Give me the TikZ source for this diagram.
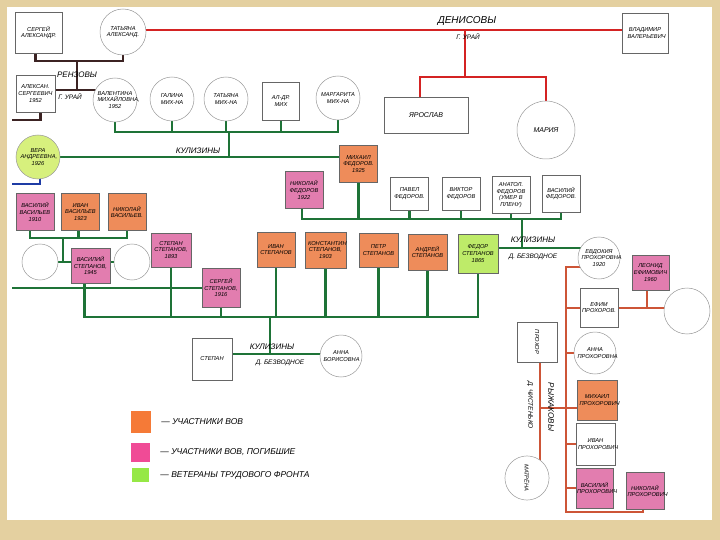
\documentclass[tikz,border=0pt]{standalone}
\usepackage{fontspec}
\setmainfont{Liberation Sans}
\usepackage{graphicx}
\usetikzlibrary{positioning,backgrounds}
\definecolor{framecol}{RGB}{228,208,160}
\definecolor{warorange}{RGB}{238,140,90}
\definecolor{fallenpink}{RGB}{226,125,175}
\definecolor{labourgreen}{RGB}{190,235,105}
\definecolor{veragreen}{RGB}{215,240,125}
\definecolor{legorange}{RGB}{245,122,55}
\definecolor{legpink}{RGB}{240,75,150}
\definecolor{leggreen}{RGB}{150,232,70}
\definecolor{linered}{RGB}{212,35,35}
\definecolor{linegreen}{RGB}{30,115,55}
\definecolor{lineblack}{RGB}{60,35,35}
\definecolor{linebrown}{RGB}{205,85,55}
\definecolor{lineblue}{RGB}{30,60,165}

\begin{document}
\begin{tikzpicture}[
  x=1pt, y=-1pt,
  box/.style={draw=black!60, fill=white, align=center, minimum width=38pt,
              minimum height=37pt, inner sep=0.5pt, line width=0.5pt, text width=35pt,
              font=\fontsize{5.7}{6.6}\selectfont\itshape},
  circ/.style={circle, draw=black!40, fill=white, align=center, minimum size=44pt,
               inner sep=0pt, line width=0.5pt, text width=35pt,
               font=\fontsize{5.7}{6.6}\selectfont\itshape},
  war/.style={fill=warorange},
  fallen/.style={fill=fallenpink},
  labour/.style={fill=labourgreen},
  redline/.style={draw=linered, line width=2.8pt},
  greenline/.style={draw=linegreen, line width=2.2pt},
  blackline/.style={draw=lineblack, line width=2.8pt},
  brownline/.style={draw=linebrown, line width=2pt},
  blueline/.style={draw=lineblue, line width=2pt},
  bigname/.style={font=\fontsize{10}{11}\selectfont\itshape, inner sep=1pt},
  famname/.style={font=\fontsize{8}{9}\selectfont\itshape, inner sep=1pt},
  place/.style={font=\fontsize{6.5}{7}\selectfont\itshape, inner sep=1pt},
  legbox/.style={minimum width=19pt, minimum height=19pt, inner sep=0pt},
  legtext/.style={font=\fontsize{8.5}{10}\selectfont\itshape, inner sep=0pt}
]
\useasboundingbox (0,0) rectangle (720,540);

\node[box, minimum width=47pt, minimum height=41pt] (sergey) at (38.5,32.5) {СЕРГЕЙ\\АЛЕКСАНДР.};
\node[circ, minimum size=46pt] (tatyanaA) at (123,32) {ТАТЬЯНА\\АЛЕКСАНД.};
\node[box, minimum width=46pt, minimum height=40pt] (vladimir) at (645,33) {ВЛАДИМИР\\ВАЛЕРЬЕВИЧ};
\node[box, minimum width=84pt, minimum height=36pt, font=\fontsize{7}{8}\selectfont\itshape] (yaroslav) at (426,115) {ЯРОСЛАВ};
\node[circ, minimum size=58pt, font=\fontsize{7}{8}\selectfont\itshape] (mariya) at (546,130) {МАРИЯ};

\node[box, minimum width=39pt] (aleksan) at (35.5,93.5) {АЛЕКСАН.\\СЕРГЕЕВИЧ\\1952};
\node[circ] (valentina) at (115,100) {ВАЛЕНТИНА\\МИХАЙЛОВНА,\\1952};
\node[circ] (galina) at (172,99) {ГАЛИНА\\МИХ-НА};
\node[circ] (tatyanaM) at (226,99) {ТАТЬЯНА\\МИХ-НА};
\node[box, minimum width=37pt, minimum height=38pt] (aleksandrM) at (281,101) {АЛ-ДР.\\МИХ};
\node[circ] (margarita) at (338,98) {МАРГАРИТА\\МИХ-НА};

\node[circ, fill=veragreen] (vera) at (38,157) {ВЕРА\\АНДРЕЕВНА,\\1926};
\node[box, war] (mikhail) at (358.5,164) {МИХАИЛ\\ФЕДОРОВ.\\1925};
\node[box, fallen] (nikolayF) at (304,190) {НИКОЛАЙ\\ФЕДОРОВ\\1922};
\node[box, minimum height=33pt] (pavel) at (409.5,193.5) {ПАВЕЛ\\ФЕДОРОВ.};
\node[box, minimum height=33pt] (viktor) at (461,193.5) {ВИКТОР\\ФЕДОРОВ};
\node[box] (anatol) at (511,195) {АНАТОЛ.\\ФЕДОРОВ\\(УМЕР В\\ПЛЕНУ)};
\node[box] (vasiliyF) at (561,193.5) {ВАСИЛИЙ\\ФЕДОРОВ.};

\node[box, fallen] (vasiliyV) at (35,212) {ВАСИЛИЙ\\ВАСИЛЬЕВ\\1910};
\node[box, war, right=7pt of vasiliyV] (ivanV) {ИВАН\\ВАСИЛЬЕВ\\1923};
\node[box, war, right=8pt of ivanV] (nikolayV) {НИКОЛАЙ\\ВАСИЛЬЕВ.};
\node[circ, minimum size=36pt] (circL) at (40,262) {};
\node[box, fallen, minimum width=39pt, minimum height=35pt] (vasiliyS) at (90.5,265.5) {ВАСИЛИЙ\\СТЕПАНОВ,\\1945};
\node[circ, minimum size=36pt] (circR) at (132,262) {};
\node[box, fallen, minimum width=40pt, minimum height=34pt] (stepan93) at (171,250) {СТЕПАН\\СТЕПАНОВ,\\1893};
\node[box, fallen, minimum height=39pt] (sergeyS) at (221,287.5) {СЕРГЕЙ\\СТЕПАНОВ,\\1916};
\node[box, war, minimum height=35pt] (ivanS) at (276,249.5) {ИВАН\\СТЕПАНОВ};
\node[box, war, minimum width=41pt, minimum height=36pt] (konstantin) at (325.5,250) {КОНСТАНТИН\\СТЕПАНОВ,\\1903};
\node[box, war, minimum width=39pt, minimum height=34pt] (petr) at (378.5,250) {ПЕТР\\СТЕПАНОВ};
\node[box, war, minimum width=39pt, minimum height=36pt] (andrey) at (427.5,252) {АНДРЕЙ\\СТЕПАНОВ};
\node[box, labour, minimum width=40pt, minimum height=39pt] (fedor) at (478,253.5) {ФЕДОР\\СТЕПАНОВ\\1865};

\node[box, minimum width=40pt, minimum height=42pt] (stepan) at (212,359) {СТЕПАН};
\node[circ, minimum size=42pt] (anna) at (341,356) {АННА\\БОРИСОВНА};

\node[circ, minimum size=42pt] (evdokiya) at (599,258) {ЕВДОКИЯ\\ПРОХОРОВНА\\1920};
\node[box, minimum height=39pt] (efim) at (599,307.5) {ЕФИМ\\ПРОХОРОВ.};
\node[box, fallen, minimum width=37pt, minimum height=35pt] (leonid) at (650.5,272.5) {ЛЕОНИД\\ЕФИМОВИЧ\\1960};
\node[circ, minimum size=46pt] (circE) at (687,311) {};
\node[circ, minimum size=42pt] (annaP) at (595,353) {АННА\\ПРОХОРОВНА};
\node[box, war, minimum width=40pt, minimum height=40pt] (mikhailP) at (597,400) {МИХАИЛ\\ПРОХОРОВИЧ};
\node[box, minimum width=39pt, minimum height=42pt] (ivanP) at (595.5,444) {ИВАН\\ПРОХОРОВИЧ};
\node[box, fallen, minimum width=37pt, minimum height=40pt] (vasiliyP) at (594.5,488) {ВАСИЛИЙ\\ПРОХОРОВИЧ};
\node[box, fallen] (nikolayP) at (645,491) {НИКОЛАЙ\\ПРОХОРОВИЧ};
\node[box, minimum width=40pt, minimum height=40pt] (prokhor) at (537,342) {\rotatebox{-90}{ПРОХОР}};
\node[circ] (matryona) at (527,478) {\rotatebox{-90}{МАТРЁНА}};

\node[bigname] (denisName) at (467,21) {ДЕНИСОВЫ};
\node[place] (denisPlace) at (468,37) {Г. УРАЙ};
\node[famname] (rezName) at (77,75) {РЕНЗОВЫ};
\node[place] (rezPlace) at (70,97) {Г. УРАЙ};
\node[famname] (kulName1) at (198,151) {КУЛИЗИНЫ};
\node[famname] (kulName2) at (533,240) {КУЛИЗИНЫ};
\node[place] (kulPlace2) at (533,257) {Д. БЕЗВОДНОЕ};
\node[famname] (kulName3) at (272,347) {КУЛИЗИНЫ};
\node[place] (kulPlace3) at (280,363) {Д. БЕЗВОДНОЕ};
\node[famname, rotate=-90] (ryzhName) at (551,407) {РЫЖАКОВЫ};
\node[place, rotate=-90] (ryzhPlace) at (530,405) {Д. ЧИСТЕНЬКО};

\node[legbox, fill=legorange, minimum width=20pt, minimum height=22pt] (legwar) at (141,422) {};
\node[legbox, fill=legpink] (legfallen) at (140.5,452.5) {};
\node[legbox, fill=leggreen, minimum width=17pt, minimum height=14pt] (leglabour) at (140.5,475) {};
\node[legtext, right=10pt of legwar] (legwarText) {— УЧАСТНИКИ ВОВ};
\node[legtext, right=10pt of legfallen] (legfallenText) {— УЧАСТНИКИ ВОВ, ПОГИБШИЕ};
\node[legtext, right=11pt of leglabour] (leglabourText) {— ВЕТЕРАНЫ ТРУДОВОГО ФРОНТА};

\coordinate (denis) at (465,30);
\coordinate (denisJ) at (465,77);
\coordinate (rez) at (77,61);
\coordinate (rezJ) at (77,90);
\coordinate (stubA) at (12,120);
\coordinate (stubV) at (12,184);
\coordinate (kulA) at (229,132);
\coordinate (kulB) at (229,157);
\coordinate (fedA) at (522,219);
\coordinate (fedB) at (522,248);
\coordinate (vasA) at (63,238);
\coordinate (vasB) at (63,262);
\coordinate (stepA) at (270,317);
\coordinate (stepB) at (270,354);
\coordinate (longL) at (12,288);
\coordinate (proTop) at (566,267);
\coordinate (proBot) at (566,512);
\coordinate (rysh) at (540,408);
\coordinate (leoJ) at (647,307);

\begin{scope}[on background layer]
\fill[framecol] (0,0) rectangle (720,540);
\fill[white] (7,7) rectangle (712,520);

\draw[redline] (tatyanaA.center |- denis) -- (vladimir.center |- denis);
\draw[redline] (denis) -- (denisJ);
\draw[redline] ([xshift=-6pt]yaroslav.center) |- (denisJ) -| (mariya.center);

\draw[blackline] ([xshift=-3pt]sergey.center) |- (rez) -| (tatyanaA.center);
\draw[blackline] (rez) -- (rezJ);
\draw[blackline] (aleksan.center |- rezJ) -- (valentina.center |- rezJ);
\draw[blackline] ([xshift=5pt]aleksan.center) |- (stubA);
\draw[blueline] ([xshift=2pt]vera.center) |- (stubV);

\draw[greenline] (valentina.center) |- (margarita.center |- kulA) -- (margarita.center);
\foreach \n in {galina,tatyanaM,aleksandrM}
  \draw[greenline] (\n.center) -- (\n.center |- kulA);
\draw[greenline] (kulA) -- (kulB);
\draw[greenline] (vera.center) -- (vera.center -| mikhail.center);

\draw[greenline] ([xshift=-2pt]nikolayF.center) |- (vasiliyF.center |- fedA) -- (vasiliyF.center);
\foreach \n in {mikhail,pavel,viktor,anatol}
  \draw[greenline] (\n.center) -- (\n.center |- fedA);
\draw[greenline] (fedA) -- (fedB);
\draw[greenline] (fedor.center |- fedB) -- (evdokiya.center |- fedB);

\draw[greenline] ([xshift=-5pt]vasiliyV.center) |- (nikolayV.center |- vasA) -- (nikolayV.center);
\draw[greenline] ([xshift=-2pt]ivanV.center) -- ([xshift=-2pt]ivanV.center |- vasA);
\draw[greenline] (vasA) -- (vasB);
\draw[greenline] (circL) -- (circR);

\draw[greenline] ([xshift=-6pt]vasiliyS.center) |- (fedor.center |- stepA) -- (fedor.center);
\foreach \n in {stepan93,sergeyS,ivanS,konstantin,petr,andrey}
  \draw[greenline] (\n.center) -- (\n.center |- stepA);
\draw[greenline] (longL) -- (sergeyS.center |- longL);
\draw[greenline] (stepA) -- (stepB);
\draw[greenline] (stepan.center |- stepB) -- (anna.center |- stepB);

\draw[brownline] (evdokiya.center |- proTop) -- (proTop) -- (proBot) -| ([xshift=-2pt]nikolayP.center);
\foreach \n in {efim,annaP,ivanP,vasiliyP}
  \draw[brownline] (proTop |- \n.center) -- (\n.center);
\draw[brownline] ([xshift=3pt]prokhor.center) -- ([xshift=3pt]prokhor.center |- matryona.center);
\draw[brownline] (rysh) -- (rysh -| mikhailP.center);
\draw[brownline] (efim.center) -- (efim.center -| circE.center);
\draw[brownline] (leoJ) -- (leoJ |- leonid.center);
\end{scope}
\end{tikzpicture}
\end{document}
